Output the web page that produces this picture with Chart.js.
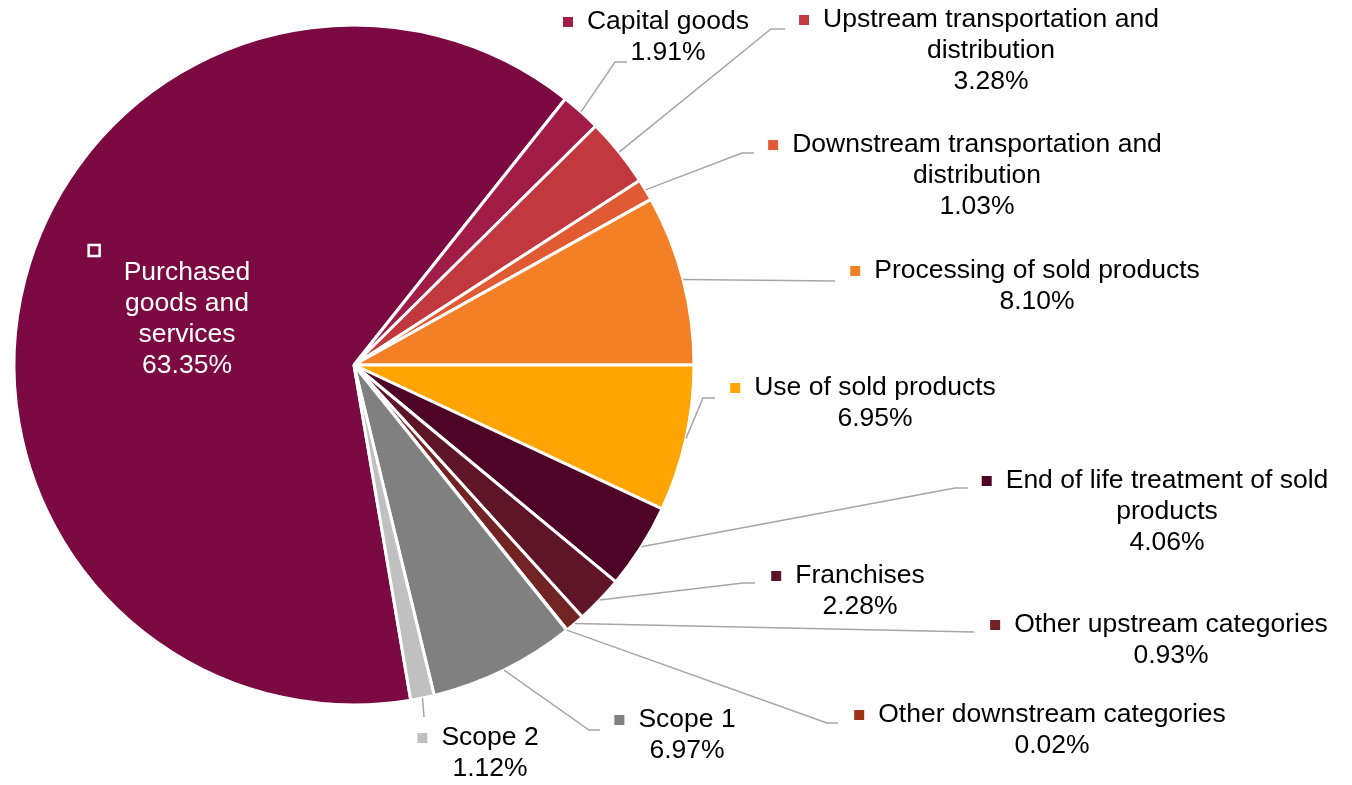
<!DOCTYPE html>
<html>
<head>
<meta charset="utf-8">
<script src="https://cdn.jsdelivr.net/npm/chart.js@4/dist/chart.umd.min.js"></script>
<style>
  html, body { margin: 0; padding: 0; background: #ffffff; }
  #wrap { width: 1352px; height: 785px; position: relative; }
</style>
</head>
<body>
<div id="wrap"><canvas id="c"></canvas></div>
<script>
// ---- Data ----
const categories = [
  ['Purchased', 'goods and', 'services'],
  ['Capital goods'],
  ['Upstream transportation and', 'distribution'],
  ['Downstream transportation and', 'distribution'],
  ['Processing of sold products'],
  ['Use of sold products'],
  ['End of life treatment of sold', 'products'],
  ['Franchises'],
  ['Other upstream categories'],
  ['Other downstream categories'],
  ['Scope 1'],
  ['Scope 2']
];
const shares = [63.35, 1.91, 3.28, 1.03, 8.10, 6.95, 4.06, 2.28, 0.93, 0.02, 6.97, 1.12];
const sliceColors = ['#7B0A42', '#A11D47', '#C1393F', '#E05A33', '#F37F27', '#FFA400',
                     '#4D0426', '#5E1528', '#722323', '#9E3318', '#808080', '#C0C0C0'];

// ---- Label layout (annotation placement: text centre x, first line centre y, leader elbow/end) ----
const labelX = [187, 668, 991, 977, 1037, 875, 1167, 860, 1171, 1052, 687, 490];
const labelY = [273, 22, 20, 145, 271, 388, 481, 576, 625, 715, 720, 738];
const leaderElbow = [null, [615, 62], [771, 29], [742, 153], null, [703, 398], [955, 488], [743, 583], null, [827, 723], [589, 730], null];
const leaderEnd = [null, [627, 62], [785, 29], [754, 153], [835, 281], [715, 398], [968, 488], [755, 583], [974, 632], [838, 723], [600, 730], [424, 717]];

const FONT = '26.5px "Liberation Sans", Arial, sans-serif';
const LINE_H = 31;

const labelPlugin = {
  id: 'pieLabels',
  afterDatasetsDraw(chart) {
    const ctx = chart.ctx;
    const meta = chart.getDatasetMeta(0);
    ctx.save();
    // leader lines
    ctx.strokeStyle = '#A6A6A6';
    ctx.lineWidth = 1.5;
    meta.data.forEach((arc, i) => {
      if (!leaderEnd[i]) return;
      const p = arc.getProps(['x', 'y', 'startAngle', 'endAngle', 'outerRadius'], true);
      const mid = (p.startAngle + p.endAngle) / 2;
      const sx = p.x + Math.cos(mid) * p.outerRadius;
      const sy = p.y + Math.sin(mid) * p.outerRadius;
      ctx.beginPath();
      ctx.moveTo(sx, sy);
      if (leaderElbow[i]) ctx.lineTo(leaderElbow[i][0], leaderElbow[i][1]);
      ctx.lineTo(leaderEnd[i][0], leaderEnd[i][1]);
      ctx.stroke();
    });
    // text + keys
    ctx.font = FONT;
    ctx.textAlign = 'center';
    ctx.textBaseline = 'middle';
    categories.forEach((lines, i) => {
      const all = lines.concat([shares[i].toFixed(2) + '%']);
      const cx = labelX[i];
      const y0 = labelY[i];
      const inside = i === 0;
      ctx.fillStyle = inside ? '#FFFFFF' : '#000000';
      all.forEach((t, k) => ctx.fillText(t, cx, y0 + k * LINE_H));
      const w = ctx.measureText(lines[0]).width;
      if (inside) {
        // legend key sits at the top-left of the wrapped label box
        const kx = cx - w / 2 - 35, ky = y0 - 28;
        ctx.fillStyle = sliceColors[i];
        ctx.fillRect(kx, ky, 11, 11);
        ctx.strokeStyle = '#FFFFFF';
        ctx.lineWidth = 2.5;
        ctx.strokeRect(kx, ky, 11, 11);
      } else {
        const kx = cx - w / 2 - 24;
        ctx.fillStyle = sliceColors[i];
        ctx.fillRect(kx, y0 - 5, 10, 10);
      }
    });
    ctx.restore();
  }
};

new Chart(document.getElementById('c'), {
  type: 'pie',
  data: {
    labels: categories,
    datasets: [{
      data: shares,
      backgroundColor: sliceColors,
      borderColor: '#FFFFFF',
      borderWidth: 3
    }]
  },
  options: {
    responsive: true,
    maintainAspectRatio: false,
    animation: false,
    rotation: 170.39,
    layout: { padding: { left: 12.5, right: 656.5, top: 23.5, bottom: 78.5 } },
    plugins: {
      legend: { display: false },
      tooltip: { enabled: false }
    }
  },
  plugins: [labelPlugin]
});
</script>
</body>
</html>
